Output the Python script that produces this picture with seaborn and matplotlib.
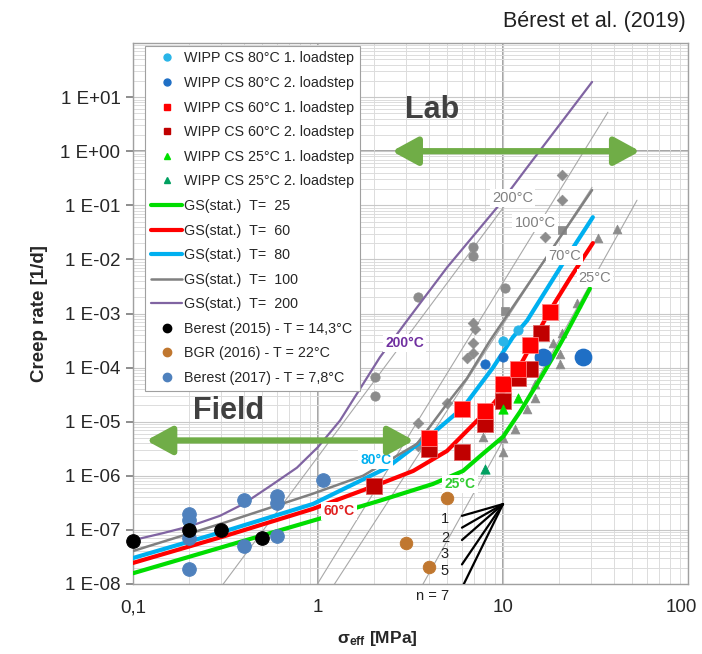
import numpy as np
import pandas as pd
import matplotlib
matplotlib.use("Agg")
import matplotlib.pyplot as plt
import matplotlib.transforms as mtransforms
from matplotlib.lines import Line2D
import seaborn as sns

sns.set_theme(style="white")
plt.rcParams['font.family'] = ['Liberation Sans', 'DejaVu Sans']

# ---------------- data ----------------
# GS(stat.) model curves
gs25_x = [0.1, 0.316, 1.0, 2.16, 4.19, 6.08, 7.80, 10.0, 12.4, 15.3, 18.6, 21.6, 29.5]
gs25_y = [1.58e-8, 5.0e-8, 1.58e-7, 3.47e-7, 7.08e-7, 1.23e-6, 2.57e-6, 5.25e-6, 1.55e-5, 5.0e-5, 1.55e-4, 3.89e-4, 2.88e-3]
gs60_x = [0.1, 0.316, 0.94, 2.16, 3.27, 4.98, 6.64, 8.51, 10.5, 12.8, 17.9, 23.0, 30.6]
gs60_y = [2.45e-8, 7.76e-8, 2.45e-7, 7.08e-7, 1.23e-6, 2.88e-6, 7.76e-6, 1.82e-5, 4.27e-5, 1.35e-4, 1.12e-3, 4.47e-3, 2.0e-2]
gs80_x = [0.1, 0.316, 0.94, 2.36, 3.27, 4.03, 6.08, 8.83, 11.3, 13.5, 21.1, 30.6]
gs80_y = [3.02e-8, 9.55e-8, 3.02e-7, 1.41e-6, 3.31e-6, 5.5e-6, 1.82e-5, 1.0e-4, 3.63e-4, 7.41e-4, 8.51e-3, 6.03e-2]
gs100_x = [0.1, 0.316, 0.94, 1.75, 3.43, 4.98, 6.38, 8.51, 30.3]
gs100_y = [4.07e-8, 1.38e-7, 4.68e-7, 1.0e-6, 3.89e-6, 2.14e-5, 6.31e-5, 3.16e-4, 1.91e-1]
gs200_x = [0.1, 0.145, 0.203, 0.295, 0.394, 0.551, 0.769, 1.0, 1.315, 2.16, 3.03, 4.98, 9.29, 13.5, 30.3]
gs200_y = [6.46e-8, 8.7e-8, 1.17e-7, 1.82e-7, 3.0e-7, 6.46e-7, 1.41e-6, 3.4e-6, 1.05e-5, 1.55e-4, 7.41e-4, 7.08e-3, 9.12e-2, 0.501, 19.05]

# WIPP CS laboratory tests
w80a_x = [10.0, 12.0];            w80a_y = [3.16e-4, 5.0e-4]
w80b_x = [8.0, 10.0];             w80b_y = [1.17e-4, 1.58e-4]
w80big_x = [16.4, 27.0];          w80big_y = [1.55e-4, 1.55e-4]
w60a_x = [4.0, 6.0, 8.0, 10.0, 12.0, 14.0, 18.0]
w60a_y = [4.9e-6, 1.74e-5, 1.58e-5, 5.0e-5, 9.5e-5, 2.57e-4, 1.05e-3]
w60b_x = [2.0, 4.0, 6.0, 8.0, 10.0, 12.0, 14.0, 16.0]
w60b_y = [6.5e-7, 3.16e-6, 2.7e-6, 9.1e-6, 2.45e-5, 6.5e-5, 9.5e-5, 4.3e-4]
w25a_x = [10.0, 12.0];            w25a_y = [1.74e-5, 2.7e-5]
w25b_x = [8.0];                   w25b_y = [1.35e-6]

# other (grey) laboratory data
gdia_x = [20.8, 20.8, 16.9, 6.9, 7.1, 6.9, 6.9, 6.4, 5.0, 3.47, 3.47]
gdia_y = [0.363, 0.123, 0.0257, 6.8e-4, 5.2e-4, 2.9e-4, 1.9e-4, 1.48e-4, 2.24e-5, 9.5e-6, 3.6e-6]
gcir_x = [6.9, 6.9, 3.47, 10.25, 2.03, 2.03]
gcir_y = [0.0166, 0.0118, 2.05e-3, 3.0e-3, 6.8e-5, 3.0e-5]
gsq_x = [20.8, 10.25];            gsq_y = [0.0347, 1.1e-3]
gtri_x = [41.3, 32.6, 25.1, 20.8, 18.6, 20.3, 20.3, 14.9, 14.9, 13.5, 11.6, 10.0, 10.0, 7.8, 8.2]
gtri_y = [0.0372, 0.0245, 1.54e-3, 4.3e-4, 2.8e-4, 1.82e-4, 1.18e-4, 5.0e-5, 2.7e-5, 1.74e-5, 7.4e-6, 4.9e-6, 2.8e-6, 5.3e-6, 1.0e-5]

# thin grey fit lines for 200, 100, 70 and 25 °C (start, end)
thin_x = [[0.288, 10.25], [0.94, 36.9], [1.16, 30.3], [3.52, 53.0]]
thin_y = [[7.4e-9, 0.10], [7.4e-9, 5.25], [7.4e-9, 0.215], [7.4e-9, 0.124]]

# field data
b15_x = [0.1, 0.2, 0.3, 0.5];     b15_y = [6.3e-8, 1.0e-7, 1.0e-7, 7.1e-8]
bgr_x = [5.0, 3.0, 4.0];          bgr_y = [3.9e-7, 5.8e-8, 2.1e-8]
b17_x = [0.2, 0.2, 0.2, 0.2, 0.4, 0.4, 0.6, 0.6, 0.6, 1.06]
b17_y = [2.0e-7, 1.55e-7, 7.1e-8, 1.9e-8, 3.6e-7, 5.0e-8, 4.3e-7, 3.2e-7, 7.8e-8, 8.5e-7]

# slope fan
fan_n = ["1", "2", "3", "5", "n = 7"]
fan_x0 = 10.0; fan_y0 = 3.0e-7
fan_x1 = 6.0
fan_y1 = [1.82e-7, 1.1e-7, 6.5e-8, 2.3e-8, 8.5e-9]
fan_lab_y = [1.6e-7, 7.1e-8, 3.6e-8, 1.74e-8, 6.0e-9]

yticks = [1e-8, 1e-7, 1e-6, 1e-5, 1e-4, 1e-3, 1e-2, 1e-1, 1e0, 1e1]
ytick_labels = ["1 E-08", "1 E-07", "1 E-06", "1 E-05", "1 E-04", "1 E-03",
                "1 E-02", "1 E-01", "1 E+00", "1 E+01"]
xticks = [0.1, 1, 10, 100]
xtick_labels = ["0,1", "1", "10", "100"]

# ---------------- figure ----------------
fig = plt.figure(figsize=(7.02, 6.54), dpi=100)
ax = fig.add_axes([133/702, 1-584/654, 555/702, 541/654])
ax.set_xscale('log'); ax.set_yscale('log')
ax.set_xlim(0.1, 100); ax.set_ylim(1e-8, 1e2)

ax.grid(which='minor', color='#DCDCDC', lw=0.7)
ax.grid(which='major', color='#C8C8C8', lw=0.8)
ax.set_axisbelow(True)
for v in [1, 10]:
    ax.axvline(v, color='#8C8C8C', lw=1.1, zorder=0.5)
ax.axhline(1.0, color='#8C8C8C', lw=1.1, zorder=0.5)
for s in ax.spines.values():
    s.set_color('#A0A0A0'); s.set_linewidth(1.0)

# thin grey lines
for tx, ty in zip(thin_x, thin_y):
    ax.plot(tx, ty, color='#A8A8A8', lw=0.8, zorder=1)

# grey lab data
grey = '#8C8C8C'
sns.scatterplot(x=gdia_x, y=gdia_y, marker='D', s=30, color=grey, edgecolor=grey, ax=ax, zorder=2)
sns.scatterplot(x=gcir_x, y=gcir_y, marker='o', s=45, color=grey, edgecolor=grey, ax=ax, zorder=2)
sns.scatterplot(x=gsq_x, y=gsq_y, marker='s', s=40, color=grey, edgecolor=grey, ax=ax, zorder=2)
sns.scatterplot(x=gtri_x, y=gtri_y, marker='^', s=40, color=grey, edgecolor=grey, ax=ax, zorder=2)

# fan
for y1, ly, lab in zip(fan_y1, fan_lab_y, fan_n):
    ax.plot([fan_x1, fan_x0], [y1, fan_y0], color='black', lw=1.6, zorder=3)
    ax.text(5.1, ly, lab, fontsize=10.5, ha='right', va='center', color='#202020', clip_on=False, zorder=3)

# GS curves
curves = [
    (gs25_x, gs25_y, '#00DD00', 3.0, 'GS(stat.)  T=  25'),
    (gs60_x, gs60_y, '#FF0000', 3.0, 'GS(stat.)  T=  60'),
    (gs80_x, gs80_y, '#00B0F0', 3.0, 'GS(stat.)  T=  80'),
    (gs100_x, gs100_y, '#808080', 1.8, 'GS(stat.)  T=  100'),
    (gs200_x, gs200_y, '#8064A2', 1.6, 'GS(stat.)  T=  200'),
]
for cx, cy, col, lw, lab in curves:
    sns.lineplot(x=cx, y=cy, color=col, lw=lw, ax=ax, sort=False, estimator=None, zorder=4)

# curve labels
lab_kw = dict(ha='center', va='center', fontweight='bold', fontsize=10,
              bbox=dict(facecolor='white', edgecolor='none', pad=1.5), zorder=5)
ax.text(2.95, 2.8e-4, '200°C', color='#7030A0', **lab_kw)
ax.text(2.05, 2.0e-6, '80°C', color='#00B0F0', **lab_kw)
ax.text(1.3, 2.2e-7, '60°C', color='#E02020', **lab_kw)
ax.text(5.86, 7.1e-7, '25°C', color='#33CC33', **lab_kw)
glab_kw = dict(ha='center', va='center', fontsize=10.5, color='#808080',
               bbox=dict(facecolor='white', edgecolor='none', pad=1.5), zorder=5)
ax.text(11.3, 0.135, '200°C', **glab_kw)
ax.text(14.9, 0.047, '100°C', **glab_kw)
ax.text(21.6, 0.0118, '70°C', **glab_kw)
ax.text(31.4, 0.0045, '25°C', **glab_kw)

# WIPP data
sns.scatterplot(x=w80a_x, y=w80a_y, marker='o', s=45, color='#29B5E8', edgecolor='#29B5E8', ax=ax, zorder=6)
sns.scatterplot(x=w80b_x, y=w80b_y, marker='o', s=45, color='#1F6FC5', edgecolor='#1F6FC5', ax=ax, zorder=6)
sns.scatterplot(x=w80big_x, y=w80big_y, marker='o', s=140, color='#1F6FC5', edgecolor='#1F6FC5', ax=ax, zorder=6)
sns.scatterplot(x=w60b_x, y=w60b_y, marker='s', s=140, color='#C00000', edgecolor='#E06060', linewidth=0.6, ax=ax, zorder=6)
sns.scatterplot(x=w60a_x, y=w60a_y, marker='s', s=140, color='#FF0000', edgecolor='#FF8080', linewidth=0.6, ax=ax, zorder=6)
sns.scatterplot(x=w25a_x, y=w25a_y, marker='^', s=45, color='#00E000', edgecolor='#00E000', ax=ax, zorder=6)
sns.scatterplot(x=w25b_x, y=w25b_y, marker='^', s=45, color='#00A060', edgecolor='#00A060', ax=ax, zorder=6)

# field data
sns.scatterplot(x=b17_x, y=b17_y, marker='o', s=95, color='#4F81BD', edgecolor='#4F81BD', ax=ax, zorder=6, clip_on=False)
sns.scatterplot(x=bgr_x, y=bgr_y, marker='o', s=80, color='#C0772F', edgecolor='#C0772F', ax=ax, zorder=6)
sns.scatterplot(x=b15_x, y=b15_y, marker='o', s=95, color='black', edgecolor='black', ax=ax, zorder=7, clip_on=False)

# arrows
arr = dict(arrowstyle='<|-|>,head_length=1.1,head_width=0.6', color='#70AD47', lw=4.5,
           shrinkA=0, shrinkB=0, mutation_scale=14)
ax.annotate('', xy=(55.0, 1.0), xytext=(2.51, 1.0), arrowprops=arr, zorder=8)
ax.annotate('', xy=(3.3, 4.5e-6), xytext=(0.118, 4.5e-6), arrowprops=arr, zorder=8)
ax.text(4.13, 5.75, 'Lab', fontsize=22, fontweight='bold', color='#404040', ha='center', va='center', zorder=8)
ax.text(0.327, 1.55e-5, 'Field', fontsize=22, fontweight='bold', color='#404040', ha='center', va='center', zorder=8)

# ticks
ax.set_yticks(yticks); ax.set_yticklabels(ytick_labels, fontsize=13.5)
ax.set_xticks(xticks); ax.set_xticklabels(xtick_labels, fontsize=13.5)
ax.yaxis.set_minor_locator(matplotlib.ticker.LogLocator(base=10, subs=np.arange(2, 10), numticks=20))
ax.xaxis.set_minor_locator(matplotlib.ticker.LogLocator(base=10, subs=np.arange(2, 10), numticks=20))
ax.yaxis.set_minor_formatter(matplotlib.ticker.NullFormatter())
ax.xaxis.set_minor_formatter(matplotlib.ticker.NullFormatter())
ax.tick_params(axis='y', which='major', length=5, color='#808080', left=True, pad=4)
ax.tick_params(axis='y', which='minor', length=0)
ax.tick_params(axis='x', which='both', length=0, pad=11)
last = ax.get_xticklabels()[-1]
last.set_horizontalalignment('right')
last.set_transform(last.get_transform() + mtransforms.ScaledTranslation(0.09, 0, fig.dpi_scale_trans))
ax.set_ylabel('Creep rate [1/d]', fontsize=13.5, fontweight='bold')
ax.yaxis.set_label_coords(-0.153, 0.5)
ax.set_xlabel(r'$\mathregular{\sigma_{eff}}$ [MPa]', fontsize=12.5, fontweight='bold')
ax.xaxis.set_label_coords(0.44, -0.083)

# legend
handles = [
    Line2D([], [], ls='', marker='o', ms=5, color='#29B5E8'),
    Line2D([], [], ls='', marker='o', ms=5, color='#1F6FC5'),
    Line2D([], [], ls='', marker='s', ms=5, color='#FF0000'),
    Line2D([], [], ls='', marker='s', ms=5, color='#C00000'),
    Line2D([], [], ls='', marker='^', ms=5, color='#00E000'),
    Line2D([], [], ls='', marker='^', ms=5, color='#00A060'),
] + [Line2D([], [], color=c[2], lw=c[3]) for c in curves] + [
    Line2D([], [], ls='', marker='o', ms=6, color='black'),
    Line2D([], [], ls='', marker='o', ms=6, color='#C0772F'),
    Line2D([], [], ls='', marker='o', ms=6, color='#4F81BD'),
]
labels = ['WIPP CS 80°C 1. loadstep', 'WIPP CS 80°C 2. loadstep',
          'WIPP CS 60°C 1. loadstep', 'WIPP CS 60°C 2. loadstep',
          'WIPP CS 25°C 1. loadstep', 'WIPP CS 25°C 2. loadstep'] + \
         [c[4] for c in curves] + \
         ['Berest (2015) - T = 14,3°C', 'BGR (2016) - T = 22°C', 'Berest (2017) - T = 7,8°C']
leg = ax.legend(handles, labels, loc='upper left', bbox_to_anchor=(0.022, 0.995),
                fontsize=10.3, labelspacing=0.74, handlelength=2.2, handletextpad=0.1,
                borderpad=0.4, borderaxespad=0, frameon=True, fancybox=False,
                framealpha=1, edgecolor='#A0A0A0')
leg.get_frame().set_linewidth(0.8)
leg.set_zorder(10)

fig.text(0.977, 0.967, 'Bérest et al. (2019)', ha='right', va='center', fontsize=15.5, color='#202020')

fig.savefig('out.png', dpi=100)
